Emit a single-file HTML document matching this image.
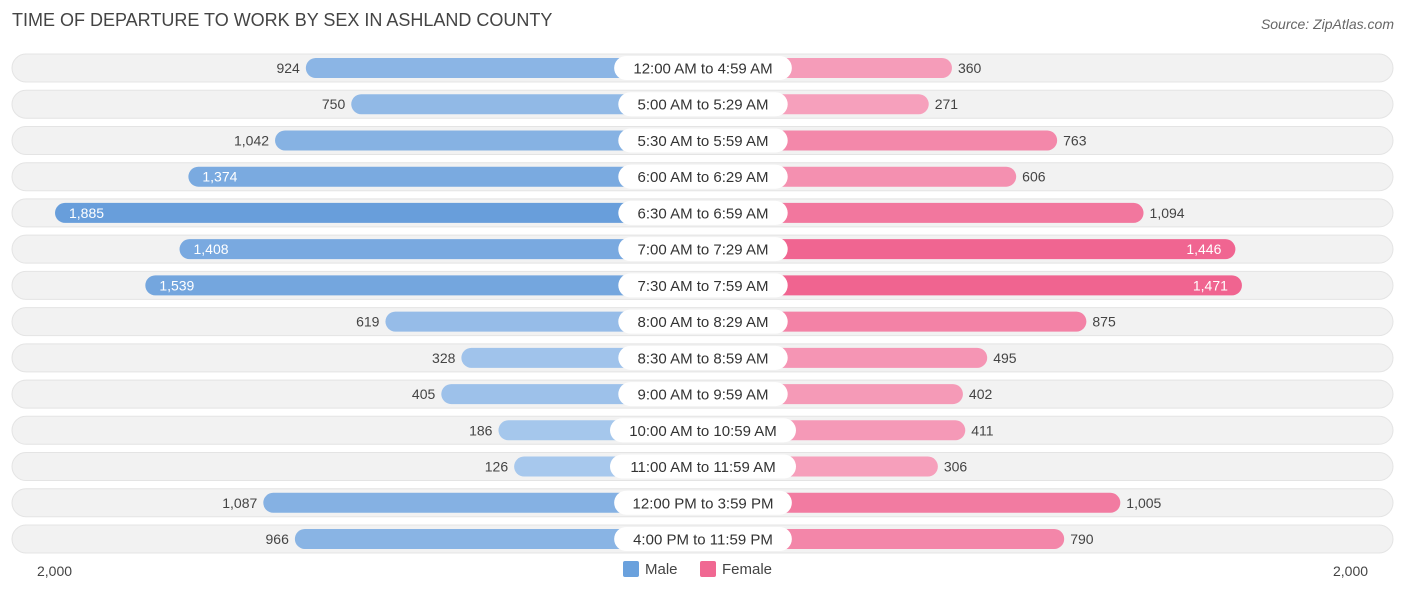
<!DOCTYPE html>
<html><head><meta charset="utf-8">
<style>
body{margin:0;width:1406px;height:595px;background:#fff;font-family:"Liberation Sans",sans-serif;overflow:hidden;position:relative}
.t{position:absolute;white-space:nowrap}
</style></head>
<body>
<div class="t" style="left:12px;top:10px;font-size:18px;color:#444">TIME OF DEPARTURE TO WORK BY SEX IN ASHLAND COUNTY</div>
<div class="t" style="right:12px;top:16px;font-size:14px;color:#666;font-style:italic">Source: ZipAtlas.com</div>
<svg id="chart" width="1406" height="595" style="position:absolute;left:0;top:0"></svg>
<div class="t" style="left:37px;top:563px;font-size:14px;color:#444">2,000</div>
<div class="t" style="left:1333px;top:563px;font-size:14px;color:#444">2,000</div>
<div class="t" style="left:623px;top:561px;font-size:15px;color:#444"><span style="display:inline-block;width:16px;height:16px;background:#6aa1dd;border-radius:2px;vertical-align:-3px;margin-right:6px"></span>Male</div>
<div class="t" style="left:700px;top:561px;font-size:15px;color:#444"><span style="display:inline-block;width:16px;height:16px;background:#f06892;border-radius:2px;vertical-align:-3px;margin-right:6px"></span>Female</div>
<script>
const categories=["12:00 AM to 4:59 AM","5:00 AM to 5:29 AM","5:30 AM to 5:59 AM","6:00 AM to 6:29 AM","6:30 AM to 6:59 AM","7:00 AM to 7:29 AM","7:30 AM to 7:59 AM","8:00 AM to 8:29 AM","8:30 AM to 8:59 AM","9:00 AM to 9:59 AM","10:00 AM to 10:59 AM","11:00 AM to 11:59 AM","12:00 PM to 3:59 PM","4:00 PM to 11:59 PM"];
const maleValues=[924,750,1042,1374,1885,1408,1539,619,328,405,186,126,1087,966];
const femaleValues=[360,271,763,606,1094,1446,1471,875,495,402,411,306,1005,790];
const NS="http://www.w3.org/2000/svg";
const svg=document.getElementById('chart');
const k=0.261, maleZero=547, femaleZero=858, y0=68, dy=36.23;
const xMale=v=>maleZero-v*k, xFemale=v=>femaleZero+v*k, yRow=i=>y0+i*dy;
const maxM=Math.max(...maleValues), maxF=Math.max(...femaleValues);
function mix(a,b,t){return 'rgb('+a.map((c,i)=>Math.round(c+(b[i]-c)*t)).join(',')+')';}
function mk(tag,attrs){const e=document.createElementNS(NS,tag);for(const a in attrs)e.setAttribute(a,attrs[a]);svg.appendChild(e);return e;}
categories.forEach((c,i)=>{
  const y=yRow(i);
  const bg=mk('rect',{x:12,y:y-14,width:1381,height:28,rx:14,fill:'#f2f2f2',stroke:'#e4e4e4'});
  
  
  const mv=maleValues[i], fv=femaleValues[i];
  const mx=xMale(mv);
  const mb=mk('rect',{x:mx,y:y-10,width:703-mx,height:20,rx:10,fill:mix([172,203,238],[104,158,219],mv/maxM)});
  
  
  const fx=xFemale(fv);
  const fb=mk('rect',{x:703,y:y-10,width:fx-703,height:20,rx:10,fill:mix([247,174,198],[240,100,144],fv/maxF)});
  
  
  const lw=c.length*8.3+20;
  const lb=mk('rect',{x:703-lw/2,y:y-12,width:lw,height:24,rx:12,fill:'#fff'});
  
  
  const lt=mk('text',{x:703,y:y+5.5,'text-anchor':'middle','font-size':15,fill:'#333'});
  lt.textContent=c;
  
  
  const mIn=mv>1300;
  const ml=mk('text',{x:mIn?mx+14:mx-6,y:y+5,'text-anchor':mIn?'start':'end','font-size':14,fill:mIn?'#fff':'#444'});
  ml.textContent=mv.toLocaleString('en-US');
  
  
  const fIn=fv>1300;
  const fl=mk('text',{x:fIn?fx-14:fx+6,y:y+5,'text-anchor':fIn?'end':'start','font-size':14,fill:fIn?'#fff':'#444'});
  fl.textContent=fv.toLocaleString('en-US');
  
  
});
</script>
</body></html>
